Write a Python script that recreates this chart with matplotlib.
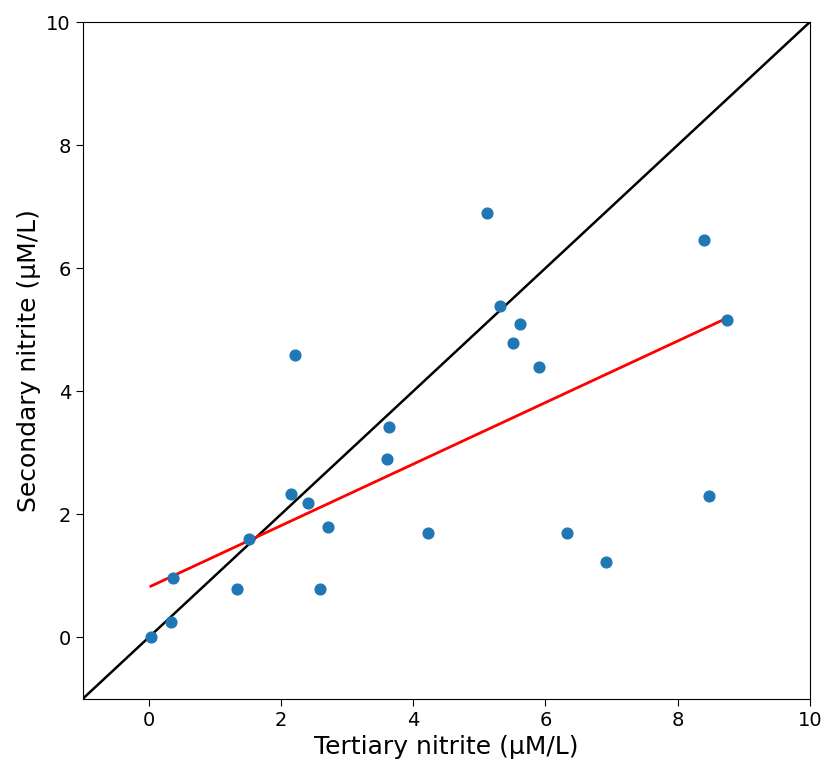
import matplotlib; matplotlib.use('Agg')
import matplotlib.pyplot as plt
import numpy as np

tertiary = [0.03, 0.33, 0.36, 1.33, 1.51, 2.15, 2.21, 2.41, 2.59, 2.71, 3.61, 3.63,
            4.22, 5.12, 5.31, 5.51, 5.61, 5.91, 6.32, 6.92, 8.40, 8.47, 8.75]
secondary = [0.01, 0.24, 0.97, 0.78, 1.60, 2.33, 4.59, 2.19, 0.78, 1.79, 2.90, 3.41,
             1.69, 6.89, 5.39, 4.79, 5.09, 4.39, 1.69, 1.23, 6.45, 2.29, 5.16]
one_to_one = [-1, 10]
# fitted line
fit_slope, fit_intercept = 0.50, 0.815

x = np.array(tertiary); y = np.array(secondary)

fig = plt.figure(figsize=(8.28, 7.62), dpi=100)
ax = fig.add_axes([0.100, 0.083, 0.878, 0.888])
ax.scatter(x, y, s=60, color='#1f77b4', zorder=3)
ax.plot(one_to_one, one_to_one, color='k', lw=1.8)
ax.plot(x, fit_slope*x + fit_intercept, color='r', lw=2)
ax.set_xlim(-1, 10); ax.set_ylim(-1, 10)
ax.tick_params(labelsize=14, length=5)
ax.set_xlabel('Tertiary nitrite (µM/L)', fontsize=18)
ax.set_ylabel('Secondary nitrite (µM/L)', fontsize=18)
fig.savefig('out.png', dpi=100)
